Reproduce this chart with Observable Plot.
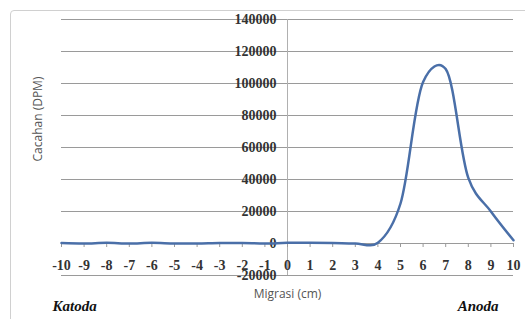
<!DOCTYPE html>
<html>
<head>
<meta charset="utf-8">
<script src="https://cdn.jsdelivr.net/npm/d3@7"></script>
<script src="https://cdn.jsdelivr.net/npm/@observablehq/plot@0.6"></script>
<style>
  html, body { margin: 0; padding: 0; background: #fff; }
  #wrap { position: relative; width: 525px; height: 319px; overflow: hidden; }
  #border { position: absolute; left: 10px; top: 10px; width: 530px; height: 330px; border: 1px solid #d0d0d0; border-radius: 4px; }
  #chart { position: absolute; left: 0; top: 0; }
</style>
</head>
<body>
<div id="wrap"><div id="border"></div><div id="chart"></div></div>
<script>
const migrasi = [-10,-9,-8,-7,-6,-5,-4,-3,-2,-1,0,1,2,3,4,5,6,7,8,9,10];
const cacahan = [300,0,400,0,400,0,0,300,300,0,400,400,300,0,500,25000,101000,109000,41000,20000,2000];
const xTicks = d3.range(-10, 11);
const yTicks = [-20000,0,20000,40000,60000,80000,100000,120000,140000];
const xTitle = "Migrasi (cm)";
const yTitle = "Cacahan (DPM)";
const leftLabel = "Katoda";
const rightLabel = "Anoda";

const data = migrasi.map((m, i) => ({m, c: cacahan[i]}));

const chart = Plot.plot({
  width: 525,
  height: 319,
  marginLeft: 61,
  marginRight: 12,
  marginTop: 19,
  marginBottom: 44,
  style: {fontFamily: "Liberation Serif", background: "transparent", overflow: "visible"},
  x: {domain: [-10, 10], axis: null},
  y: {domain: [-20000, 140000], axis: null},
  marks: [
    Plot.ruleY(yTicks, {stroke: "#9a9a9a", strokeWidth: 1}),
    Plot.ruleX([0], {stroke: "#b0b0b0", strokeWidth: 1}),
    Plot.ruleX(xTicks, {x: d => d, y1: d => 0, y2: d => -2500, stroke: "#9a9a9a"}),
    Plot.text(yTicks, {x: d => 0, y: d => d, text: d => String(d), textAnchor: "end", dx: -11, fontSize: 14, fill: "#333", fontWeight: 600}),
    Plot.text(xTicks, {x: d => d, y: d => 0, text: d => String(d), dy: 22, fontSize: 14, fill: "#333", fontWeight: 600}),
    Plot.line(data, {x: "m", y: "c", curve: "catmull-rom", tension: 0.2, stroke: "#4a6fa8", strokeWidth: 2.5}),
    Plot.text([xTitle], {frameAnchor: "bottom", dy: 22, fontFamily: "Open Sans", fontSize: 12, fill: "#555"}),
    Plot.text([yTitle], {frameAnchor: "left", dx: -23, dy: 14, rotate: -90, fontFamily: "Open Sans", fontSize: 12, fill: "#555"}),
    Plot.text([leftLabel], {frameAnchor: "bottom-left", dx: -9, dy: 35, textAnchor: "start", fontFamily: "Liberation Sans Narrow", fontStyle: "italic", fontWeight: "bold", fontSize: 15, fill: "#111"}),
    Plot.text([rightLabel], {frameAnchor: "bottom-right", dx: -15, dy: 35, textAnchor: "end", fontFamily: "Liberation Sans Narrow", fontStyle: "italic", fontWeight: "bold", fontSize: 15, fill: "#111"})
  ]
});
document.getElementById("chart").appendChild(chart);
</script>
</body>
</html>
